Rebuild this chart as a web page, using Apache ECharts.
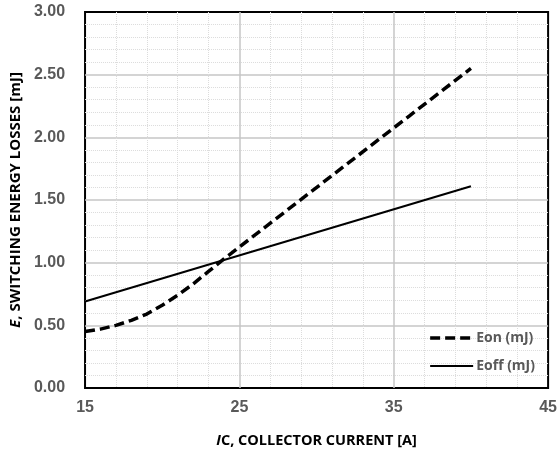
<!DOCTYPE html>
<html>
<head>
<meta charset="utf-8">
<script src="https://cdn.jsdelivr.net/npm/echarts@6/dist/echarts.min.js"></script>
<style>html,body{margin:0;padding:0;background:#fff}#c{width:560px;height:457px}</style>
</head>
<body>
<div id="c"></div>
<script>
// Data
const eonX = [15, 16, 17, 18, 19, 20, 21, 22, 23, 24, 28, 32, 36, 40];
const eonY = [0.45, 0.47, 0.50, 0.54, 0.59, 0.66, 0.74, 0.83, 0.93, 1.03, 1.41, 1.79, 2.17, 2.55];
const eoffX = [15, 40];
const eoffY = [0.69, 1.61];
const seriesNames = ['Eon (mJ)', 'Eoff (mJ)'];
const xTicks = [15, 25, 35, 45];
const yTicks = [0, 0.5, 1, 1.5, 2, 2.5, 3];

const pair = (xs, ys) => xs.map((x, i) => [x, ys[i]]);
const chart = echarts.init(document.getElementById('c'));
const tickFont = { color: '#595959', fontWeight: 'bold', fontSize: 16, fontFamily: 'Liberation Sans' };
const nameRich = (size) => ({
  i: { fontStyle: 'italic', fontWeight: 'bold', fontSize: size, fontFamily: 'Open Sans', color: '#000' },
  n: { fontWeight: 'bold', fontSize: size, fontFamily: 'Open Sans', color: '#000' }
});
const eonLine = { color: '#000', width: 3.5, type: [10, 5] };
const eoffLine = { color: '#000', width: 2 };
chart.setOption({
  animation: false,
  grid: { left: 84, right: 10, top: 12, bottom: 69, show: true, borderColor: '#000', borderWidth: 2, backgroundColor: 'transparent' },
  legend: {
    orient: 'vertical', right: 20, top: 326, itemGap: 14, itemWidth: 43, itemHeight: 14,
    data: [
      { name: seriesNames[0], lineStyle: eonLine },
      { name: seriesNames[1], lineStyle: eoffLine }
    ],
    itemStyle: { color: 'transparent', borderWidth: 0, opacity: 0 },
    textStyle: { color: '#595959', fontWeight: 'bold', fontSize: 14, fontFamily: 'Open Sans', padding: [0, 0, 0, -2] }
  },
  xAxis: {
    type: 'value', min: xTicks[0], max: xTicks[xTicks.length - 1], interval: 10,
    axisLine: { show: false }, axisTick: { show: false },
    axisLabel: Object.assign({ margin: 12 }, tickFont),
    splitLine: { show: true, showMinLine: false, showMaxLine: false, lineStyle: { color: '#c6c6c6', width: 1.5 } },
    minorTick: { show: false, splitNumber: 5 },
    minorSplitLine: { show: true, lineStyle: { color: '#dcdcdc', type: 'dotted', width: 1 } },
    name: '{i|I}{n|C, COLLECTOR CURRENT [A]}', nameLocation: 'middle', nameGap: 45,
    nameTextStyle: { rich: nameRich(14.5) }
  },
  yAxis: {
    type: 'value', min: 0, max: 3, interval: 0.5,
    axisLine: { show: false }, axisTick: { show: false },
    axisLabel: Object.assign({ margin: 20, formatter: v => v.toFixed(2) }, tickFont),
    splitLine: { show: true, showMinLine: false, showMaxLine: false, lineStyle: { color: '#c6c6c6', width: 1.5 } },
    minorTick: { show: false, splitNumber: 5 },
    minorSplitLine: { show: true, lineStyle: { color: '#dcdcdc', type: 'dotted', width: 1 } },
    name: '{i|E}{n|, SWITCHING ENERGY LOSSES [mJ]}', nameLocation: 'middle', nameGap: 52, nameRotate: 90,
    nameTextStyle: { rich: nameRich(15), padding: [0, 0, 0, 0] }
  },
  series: [
    { name: seriesNames[0], type: 'line', symbol: 'none', data: pair(eonX, eonY),
      lineStyle: eonLine, itemStyle: { color: '#000' } },
    { name: seriesNames[1], type: 'line', symbol: 'none', data: pair(eoffX, eoffY),
      lineStyle: eoffLine, itemStyle: { color: '#000' } }
  ]
});
</script>
</body>
</html>
